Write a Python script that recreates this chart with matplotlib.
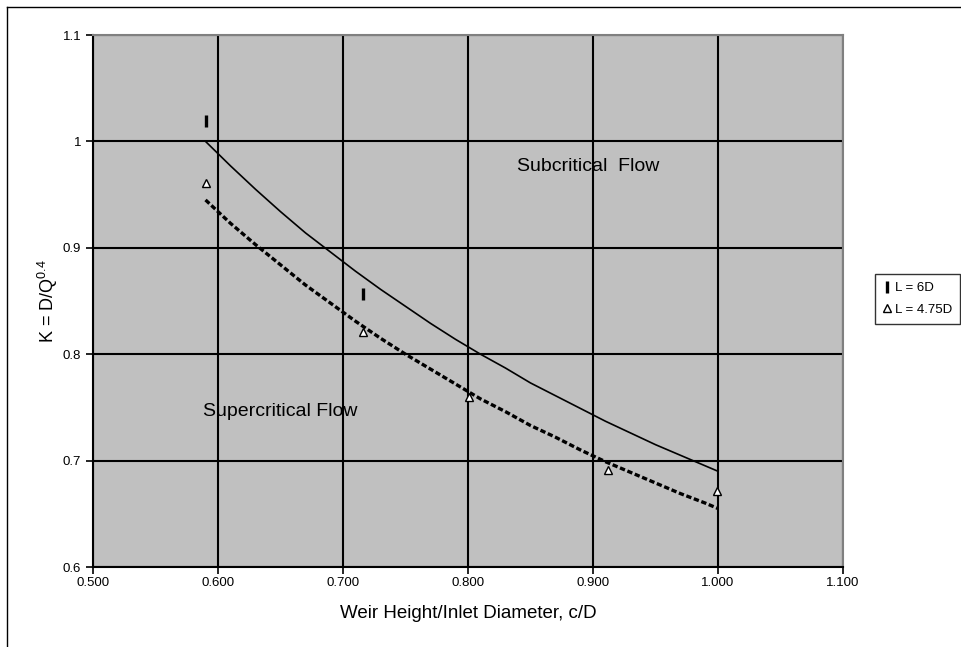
import matplotlib.pyplot as plt
from matplotlib.ticker import FixedLocator, FixedFormatter

plt.rcParams['font.family'] = ['Liberation Sans', 'DejaVu Sans']
plt.rcParams['mathtext.default'] = 'regular'

# measured points
x_6d = [0.590, 0.716]
k_6d = [1.019, 0.857]
x_475d = [0.590, 0.716, 0.801, 0.912, 0.999]
k_475d = [0.961, 0.821, 0.760, 0.691, 0.671]

# trend curves
x_trend = [0.59, 0.61, 0.63, 0.65, 0.67, 0.69, 0.71, 0.73, 0.75, 0.77, 0.79,
           0.81, 0.83, 0.85, 0.87, 0.89, 0.91, 0.93, 0.95, 0.97, 0.99, 1.00]
k_trend_6d = [1.000, 0.977, 0.955, 0.934, 0.914, 0.896, 0.878, 0.861, 0.845,
              0.829, 0.814, 0.800, 0.787, 0.773, 0.761, 0.749, 0.737, 0.726,
              0.715, 0.705, 0.695, 0.690]
k_trend_475d = [0.945, 0.923, 0.903, 0.884, 0.865, 0.848, 0.831, 0.815, 0.800,
                0.786, 0.772, 0.758, 0.746, 0.733, 0.722, 0.710, 0.699, 0.689,
                0.679, 0.669, 0.660, 0.655]

xticks = [0.5, 0.6, 0.7, 0.8, 0.9, 1.0, 1.1]
xtick_labels = ["0.500", "0.600", "0.700", "0.800", "0.900", "1.000", "1.100"]
yticks = [0.6, 0.7, 0.8, 0.9, 1.0, 1.1]
ytick_labels = ["0.6", "0.7", "0.8", "0.9", "1", "1.1"]

fig = plt.figure(figsize=(9.61, 6.47), dpi=100)
ax = fig.add_axes([0.0968, 0.1236, 0.7804, 0.8223])
ax.set_facecolor('#c0c0c0')

# outer frame (left and top visible)
fig.add_artist(plt.Line2D([0.0073, 0.0073], [0.0, 0.989], color='black', lw=1.0))
fig.add_artist(plt.Line2D([0.0073, 1.0], [0.989, 0.989], color='black', lw=1.0))

ax.plot(x_trend, k_trend_6d, '-', color='black', lw=1.2, zorder=3)
ax.plot(x_trend, k_trend_475d, color='black', lw=2.4, dashes=(1.6, 0.8), zorder=3)

ax.plot(x_6d, k_6d, '|', color='black', ms=8, mew=2.4, ls='none',
        label="L = 6D", zorder=4)
ax.plot(x_475d, k_475d, '^', mfc='white', mec='black', ms=5.5, mew=1.0,
        ls='none', label="L = 4.75D", zorder=4)

ax.text(0.896, 0.976, "Subcritical  Flow", fontsize=14, ha='center', va='center')
ax.text(0.650, 0.746, "Supercritical Flow", fontsize=14, ha='center', va='center')

ax.set_xlim(0.5, 1.1)
ax.set_ylim(0.6, 1.1)
ax.xaxis.set_major_locator(FixedLocator(xticks))
ax.xaxis.set_major_formatter(FixedFormatter(xtick_labels))
ax.yaxis.set_major_locator(FixedLocator(yticks))
ax.yaxis.set_major_formatter(FixedFormatter(ytick_labels))
ax.grid(True, color='black', lw=1.5)
ax.set_axisbelow(True)
ax.tick_params(direction='out', length=5, width=1.2, labelsize=9.5, colors='black')
ax.tick_params(axis='x', pad=2)

for side in ['left', 'bottom']:
    ax.spines[side].set_color('black')
    ax.spines[side].set_linewidth(1.5)
for side in ['top', 'right']:
    ax.spines[side].set_color('#808080')
    ax.spines[side].set_linewidth(1.5)

ax.set_xlabel("Weir Height/Inlet Diameter, c/D", fontsize=13.5, labelpad=12)
ax.set_ylabel("K = D/Q$^{0.4}$", fontsize=13, labelpad=2)

leg = fig.legend(loc='upper left', bbox_to_anchor=(0.9105, 0.5765), fontsize=9.5,
                 frameon=True, fancybox=False, edgecolor='black', handlelength=0.6,
                 handletextpad=0.3, borderpad=0.6, labelspacing=0.7, borderaxespad=0)
leg.get_frame().set_linewidth(1.0)

fig.savefig("out.png", dpi=100)
